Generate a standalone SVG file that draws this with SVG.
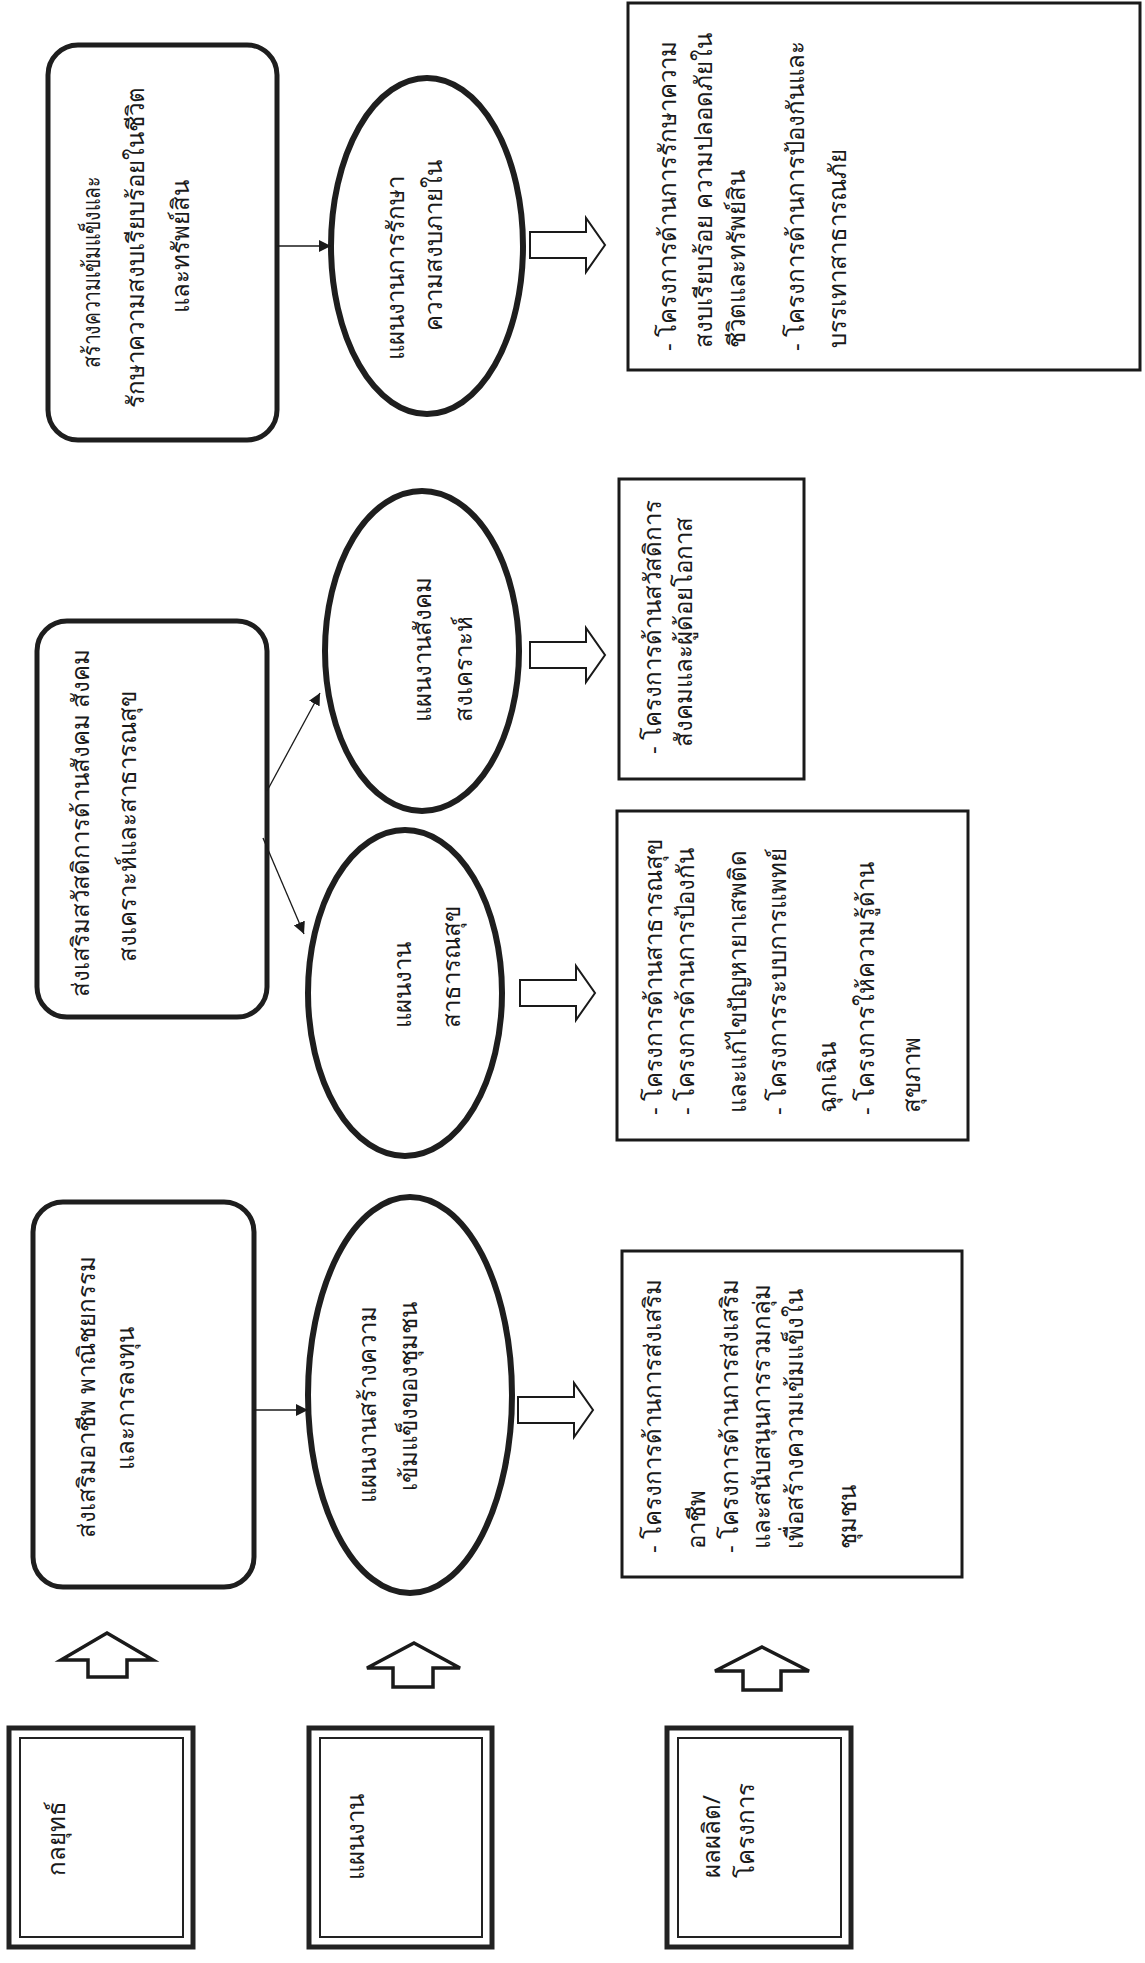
<svg xmlns="http://www.w3.org/2000/svg" width="1145" height="1963" viewBox="0 0 1145 1963">
<style>
text{font-family:"Noto Sans","DejaVu Sans","Liberation Sans",sans-serif;font-size:24px;fill:#1a1a1a}
.m{text-anchor:middle}
.lbl-o{fill:#fff;stroke:#222;stroke-width:5}
.lbl-i{fill:none;stroke:#222;stroke-width:2}
.rbox{fill:#fff;stroke:#1e1e1e;stroke-width:5}
.ell{fill:#fff;stroke:#1e1e1e;stroke-width:6}
.pbox{fill:#fff;stroke:#1a1a1a;stroke-width:3}
.up{fill:#fff;stroke:#1a1a1a;stroke-width:3.5;stroke-linejoin:miter}
.blk{fill:#fff;stroke:#1a1a1a;stroke-width:2}
.thin{stroke:#1a1a1a;stroke-width:1.3;fill:none}
</style>
<defs>
<marker id="ah" viewBox="0 0 10 10" refX="10" refY="5" markerWidth="12" markerHeight="12" markerUnits="userSpaceOnUse" orient="auto">
<path d="M0,0 L10,5 L0,10 z" fill="#1a1a1a"/>
</marker>
</defs>
<rect width="1145" height="1963" fill="#fff"/>

<g id="label-strategy">
<rect class="lbl-o" x="9" y="1728" width="184" height="219"/>
<rect class="lbl-i" x="20" y="1738" width="163" height="199"/>
<text class="m" transform="translate(65,1838) rotate(-90)">กลยุทธ์</text>
</g>
<g id="label-plan">
<rect class="lbl-o" x="309" y="1728" width="183" height="219"/>
<rect class="lbl-i" x="320" y="1738" width="162" height="199"/>
<text class="m" transform="translate(364,1837) rotate(-90)">แผนงาน</text>
</g>
<g id="label-project">
<rect class="lbl-o" x="667" y="1728" width="184" height="219"/>
<rect class="lbl-i" x="678" y="1738" width="163" height="199"/>
<text transform="translate(720,1878) rotate(-90)">ผลผลิต/</text>
<text transform="translate(754,1878) rotate(-90)">โครงการ</text>
</g>

<g id="up-arrows">
<path class="up" d="M107,1633 L153,1660 L127,1660 L127,1677 L88,1677 L88,1660 L61,1660 Z"/>
<path class="up" d="M414,1643 L460,1668 L433,1668 L433,1687 L393,1687 L393,1668 L367,1668 Z"/>
<path class="up" d="M762,1647 L809,1671 L781,1671 L781,1690 L743,1690 L743,1671 L715,1671 Z"/>
</g>

<g id="strategy-1">
<rect class="rbox" x="33" y="1202" width="221" height="385" rx="30"/>
<text class="m" transform="translate(95,1397) rotate(-90)">ส่งเสริมอาชีพ พาณิชยกรรม</text>
<text class="m" transform="translate(134,1398) rotate(-90)">และการลงทุน</text>
</g>
<g id="strategy-2">
<rect class="rbox" x="37" y="621" width="230" height="396" rx="30"/>
<text class="m" transform="translate(89,823) rotate(-90)">ส่งเสริมสวัสดิการด้านสังคม สังคม</text>
<text class="m" transform="translate(136,826) rotate(-90)">สงเคราะห์และสาธารณสุข</text>
</g>
<g id="strategy-3">
<rect class="rbox" x="48" y="45" width="229" height="395" rx="30"/>
<text class="m" transform="translate(100,272) rotate(-90)" textLength="192" lengthAdjust="spacingAndGlyphs">สร้างความเข้มแข็งและ</text>
<text class="m" transform="translate(144,247) rotate(-90)">รักษาความสงบเรียบร้อยในชีวิต</text>
<text class="m" transform="translate(189,246) rotate(-90)">และทรัพย์สิน</text>
</g>

<g id="plan-community">
<ellipse class="ell" cx="410" cy="1395" rx="102" ry="198"/>
<text class="m" transform="translate(376,1404) rotate(-90)">แผนงานสร้างความ</text>
<text class="m" transform="translate(417,1396) rotate(-90)">เข้มแข็งของชุมชน</text>
</g>
<g id="plan-health">
<ellipse class="ell" cx="405" cy="993" rx="97" ry="163"/>
<text transform="translate(411,1028) rotate(-90)">แผนงาน</text>
<text transform="translate(460,1028) rotate(-90)">สาธารณสุข</text>
</g>
<g id="plan-social">
<ellipse class="ell" cx="422" cy="651" rx="97" ry="160"/>
<text transform="translate(431,722) rotate(-90)">แผนงานสังคม</text>
<text transform="translate(472,722) rotate(-90)">สงเคราะห์</text>
</g>
<g id="plan-security">
<ellipse class="ell" cx="427" cy="246" rx="96" ry="168"/>
<text class="m" transform="translate(404,268) rotate(-90)">แผนงานการรักษา</text>
<text class="m" transform="translate(442,245) rotate(-90)">ความสงบภายใน</text>
</g>

<g id="project-community">
<rect class="pbox" x="622" y="1251" width="340" height="326"/>
<text transform="translate(661,1553) rotate(-90)">- โครงการด้านการส่งเสริม</text>
<text transform="translate(705,1549) rotate(-90)">อาชีพ</text>
<text transform="translate(738,1553) rotate(-90)">- โครงการด้านการส่งเสริม</text>
<text transform="translate(770,1549) rotate(-90)">และสนับสนุนการรวมกลุ่ม</text>
<text transform="translate(803,1549) rotate(-90)">เพื่อสร้างความเข้มแข็งใน</text>
<text transform="translate(856,1549) rotate(-90)">ชุมชน</text>
</g>
<g id="project-health">
<rect class="pbox" x="617" y="811" width="351" height="329"/>
<text transform="translate(662,1115) rotate(-90)">- โครงการด้านสาธารณสุข</text>
<text transform="translate(694,1115) rotate(-90)">- โครงการด้านการป้องกัน</text>
<text transform="translate(746,1113) rotate(-90)">และแก้ไขปัญหายาเสพติด</text>
<text transform="translate(786,1115) rotate(-90)">- โครงการระบบการแพทย์</text>
<text transform="translate(836,1113) rotate(-90)">ฉุกเฉิน</text>
<text transform="translate(874,1115) rotate(-90)">- โครงการให้ความรู้ด้าน</text>
<text transform="translate(920,1113) rotate(-90)">สุขภาพ</text>
</g>
<g id="project-social">
<rect class="pbox" x="619" y="479" width="185" height="300"/>
<text transform="translate(661,754) rotate(-90)">- โครงการด้านสวัสดิการ</text>
<text transform="translate(692,747) rotate(-90)">สังคมและผู้ด้อยโอกาส</text>
</g>
<g id="project-security">
<rect class="pbox" x="628" y="3" width="512" height="367"/>
<text transform="translate(676,351) rotate(-90)">- โครงการด้านการรักษาความ</text>
<text transform="translate(712,348) rotate(-90)">สงบเรียบร้อย ความปลอดภัยใน</text>
<text transform="translate(745,348) rotate(-90)">ชีวิตและทรัพย์สิน</text>
<text transform="translate(804,351) rotate(-90)">- โครงการด้านการป้องกันและ</text>
<text transform="translate(846,348) rotate(-90)">บรรเทาสาธารณภัย</text>
</g>

<g id="connectors">
<line class="thin" x1="254" y1="1410" x2="308" y2="1410" marker-end="url(#ah)"/>
<line class="thin" x1="267" y1="791" x2="320" y2="693" marker-end="url(#ah)"/>
<line class="thin" x1="263" y1="838" x2="304" y2="934" marker-end="url(#ah)"/>
<line class="thin" x1="277" y1="246" x2="331" y2="246" marker-end="url(#ah)"/>
<path class="blk" d="M518,1397 L574,1397 L574,1383 L593,1410 L574,1437 L574,1423 L518,1423 Z"/>
<path class="blk" d="M520,980 L576,980 L576,966 L595,993 L576,1020 L576,1006 L520,1006 Z"/>
<path class="blk" d="M530,642 L586,642 L586,628 L605,655 L586,682 L586,668 L530,668 Z"/>
<path class="blk" d="M530,232 L586,232 L586,218 L605,245 L586,272 L586,258 L530,258 Z"/>
</g>
</svg>
